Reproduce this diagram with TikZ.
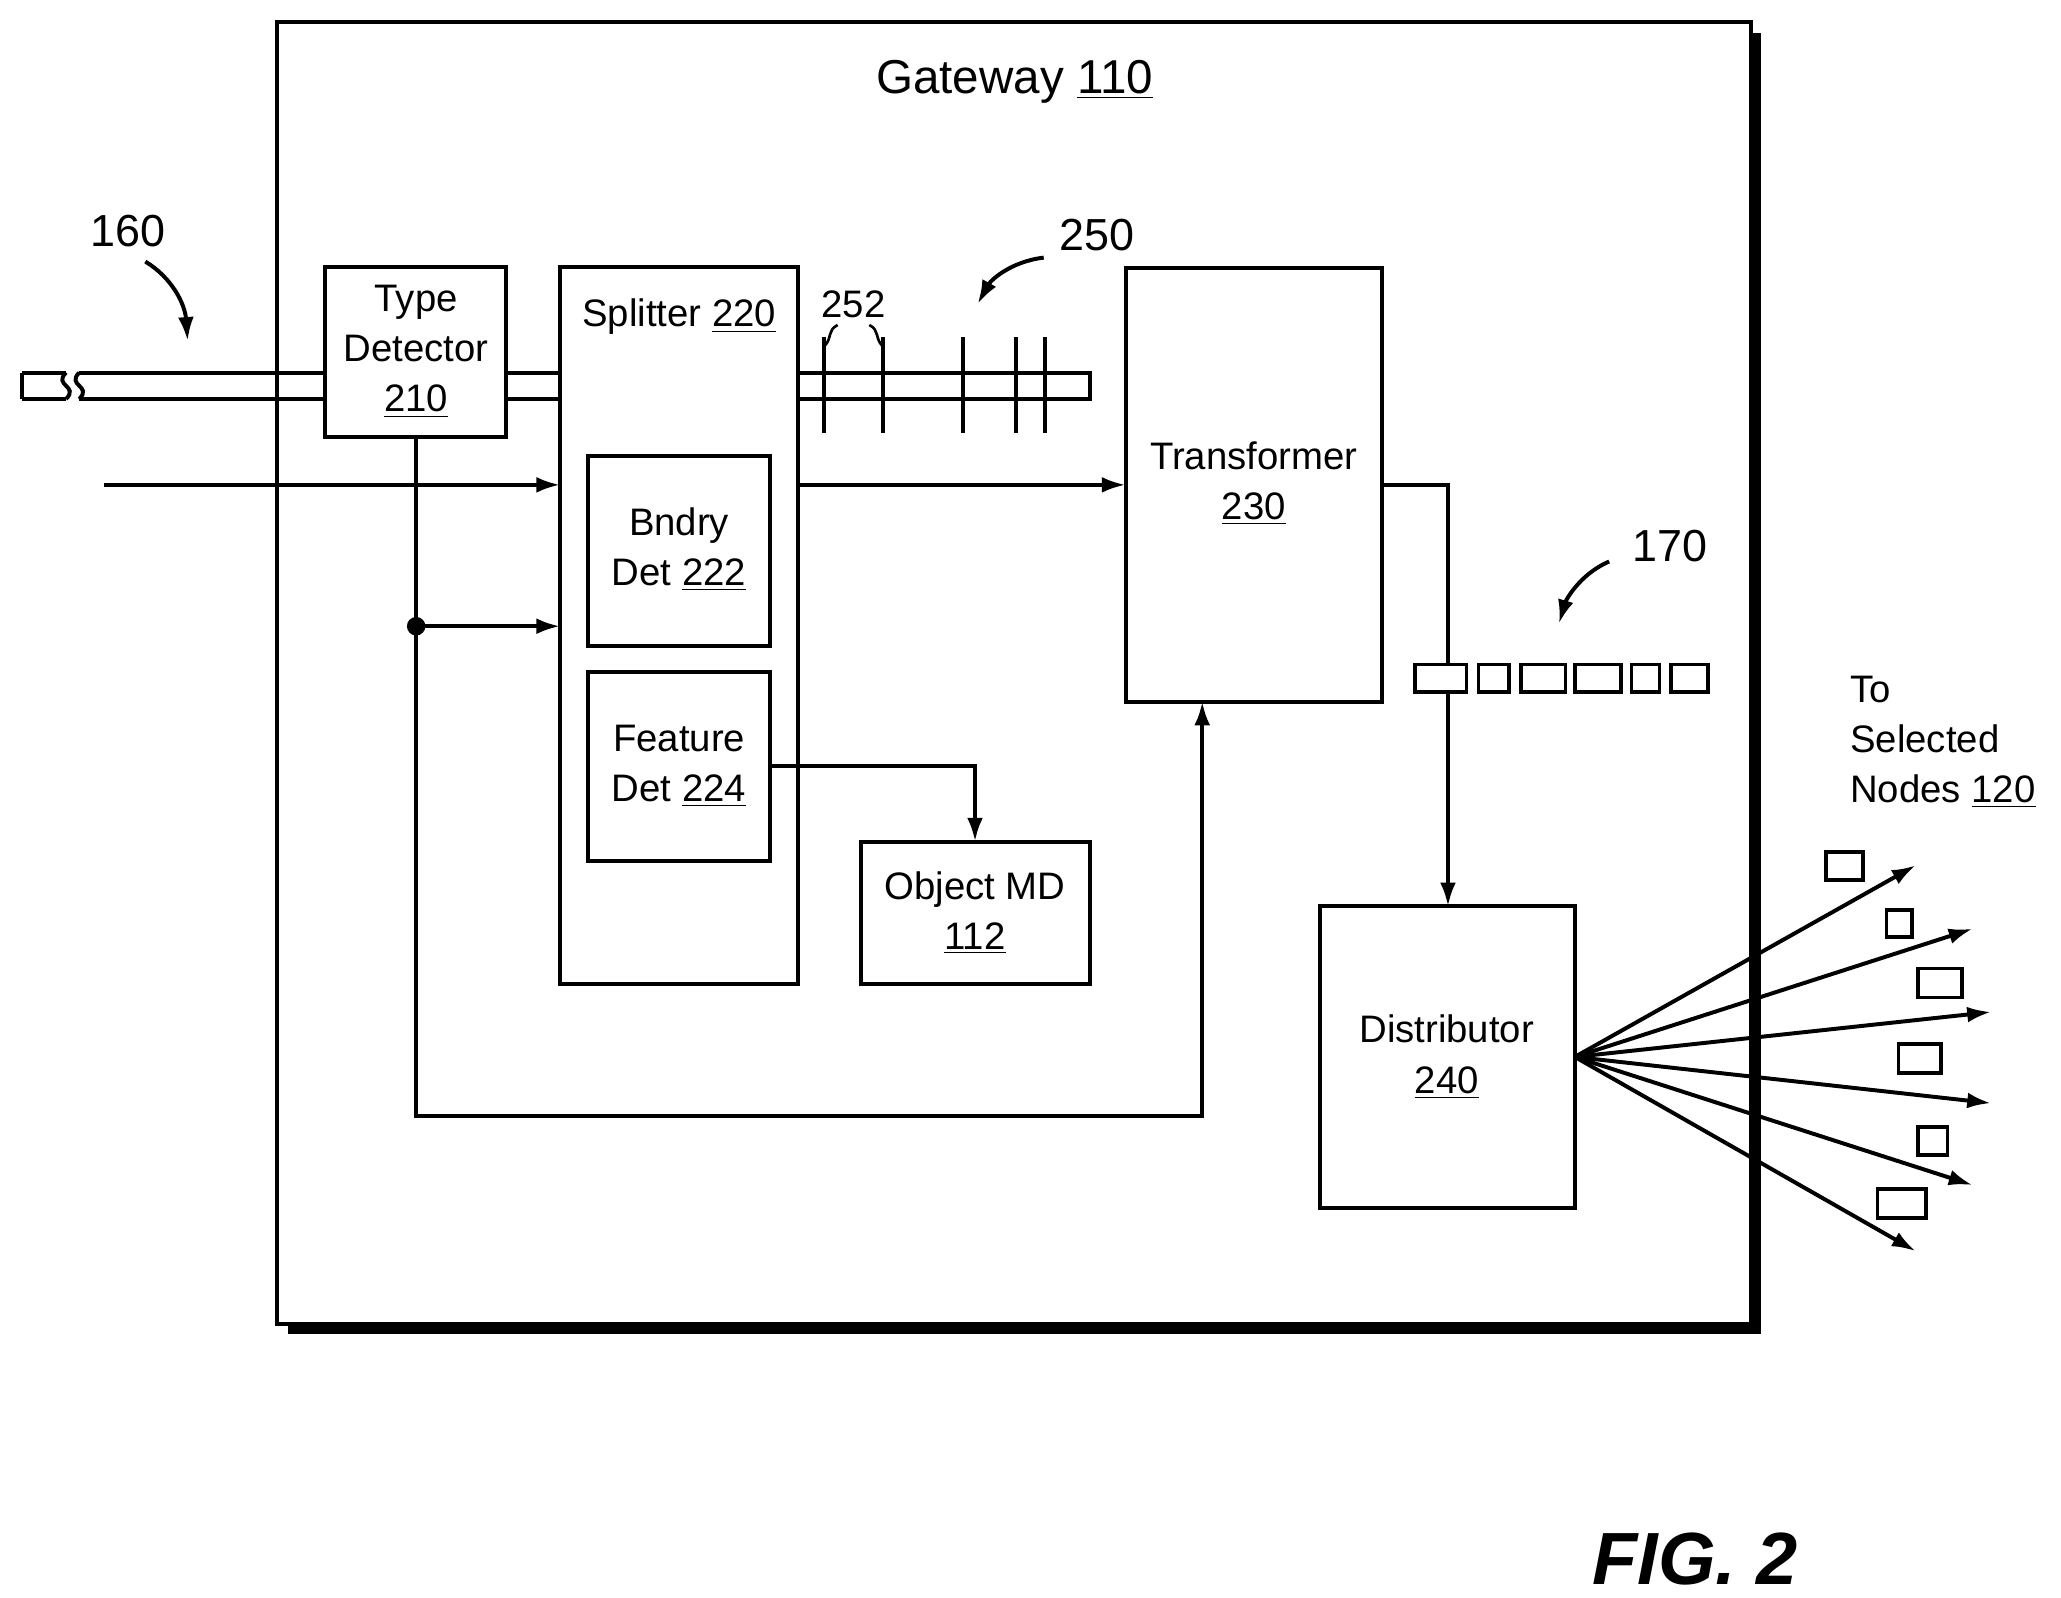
\documentclass[tikz,border=0pt]{standalone}
\usepackage{fontspec}
\setmainfont{Liberation Sans}
\usetikzlibrary{arrows.meta}
\begin{document}
\begin{tikzpicture}[x=0.5pt,y=-0.5pt,line width=1.5pt,
 box/.style={draw,line width=1.5pt,inner sep=0},
 txt/.style={font=\fontsize{14.5}{19}\selectfont,align=center,inner sep=0},
 arr/.style={-{Latex[length=9pt,width=6pt]}},
 pk/.style={draw,line width=1.4pt}]
\useasboundingbox (0,0) rectangle (1560,1209);
% gateway
\fill (218,25) rectangle (1333,1010);
\draw[fill=white] (210,17) rectangle (1325,1002);
\node[txt,font=\fontsize{18}{22}\selectfont] (gw) at (768,62) {Gateway \underline{110}};
% boxes
\draw (246,202) rectangle (383,331) coordinate (td);
\node[txt] (tdl) at (315,266) {Type\\Detector\\\underline{210}};
\draw (424,202) rectangle (604,745);
\node[txt] (spl) at (514,240) {Splitter \underline{220}};
\draw (445,345) rectangle (583,489);
\node[txt] (bd) at (514,416) {Bndry\\Det \underline{222}};
\draw (445,509) rectangle (583,652);
\node[txt] (fd) at (514,580) {Feature\\Det \underline{224}};
\draw (652,637) rectangle (825,745);
\node[txt] (om) at (738,691) {Object MD\\\underline{112}};
\draw (852,203) rectangle (1046,531);
\node[txt] (tr) at (949,366) {Transformer\\\underline{230}};
\draw (999,686) rectangle (1192,914);
\node[txt] (di) at (1095,800) {Distributor\\\underline{240}};
% tubes
\draw (60,282) -- (246,282) (60,302) -- (246,302);
\draw (17,282) -- (50,282) (17,302) -- (50,302) (17,282) -- (17,302);
\draw (50,282) .. controls (40,292) and (60,292) .. (50,302);
\draw (60,282) .. controls (50,292) and (70,292) .. (60,302);
\draw (383,282) -- (424,282) (383,302) -- (424,302);
\draw (604,282) -- (825,282) -- (825,302) -- (604,302);
\foreach \x in {624,668,729,769,791} \draw (\x,255) -- (\x,328);
\node[txt] (n252) at (646,230) {252};
\draw[line width=1pt] (634,246) .. controls (626,250) and (630,256) .. (624,262);
\draw[line width=1pt] (658,246) .. controls (666,250) and (662,256) .. (668,262);
\node[txt,font=\fontsize{17}{20}\selectfont] (n250) at (830,178) {250};
\draw[arr] (790,195) .. controls (765,198) and (750,212) .. (740,230);
\node[txt,font=\fontsize{17}{20}\selectfont] (n160) at (97,175) {160};
\draw[arr] (110,198) .. controls (130,210) and (140,230) .. (142,258);
\node[txt,font=\fontsize{17}{20}\selectfont] (n170) at (1264,413) {170};
\draw[arr] (1218,425) .. controls (1195,435) and (1185,455) .. (1180,472);
% connectors
\coordinate (in) at (79,367);
\draw[arr] (in) -- (424,367);
\draw[arr] (604,367) -- (852,367);
\draw[arr] (315,331) -- (315,845) -- (910,845) -- (910,531);
\fill (315,474) circle (7);
\draw[arr] (315,474) -- (424,474);
\draw[arr] (583,580) -- (738,580) -- (738,637);
\draw[arr] (1046,367) -- (1096,367) -- (1096,686);
% packets
\foreach \a/\b in {1071/1110,1119/1142,1151/1185,1192/1227,1235/1256,1265/1293}
  \draw[pk,fill=white] (\a,503) rectangle (\b,524);
% fan
\coordinate (fo) at (1192,800);
\foreach \p in {(1450,655),(1493,703),(1507,766),(1507,835),(1493,897),(1450,947)}
  \draw[arr] (fo) -- \p;
\foreach \a/\b/\c/\d in {1382/645/1410/666,1428/689/1447/709,1452/733/1485/755,1437/790/1469/812,1452/853/1474/874,1421/900/1458/922}
  \draw[pk,fill=white] (\a,\b) rectangle (\c,\d);
\node[txt,align=left,anchor=north west,font=\fontsize{14.5}{19}\selectfont] (to) at (1399,510) {To\\Selected\\Nodes \underline{120}};
\node[txt,font=\fontsize{28}{32}\bfseries\itshape\selectfont] (fig) at (1283,1180) {FIG. 2};
\end{tikzpicture}
\end{document}
